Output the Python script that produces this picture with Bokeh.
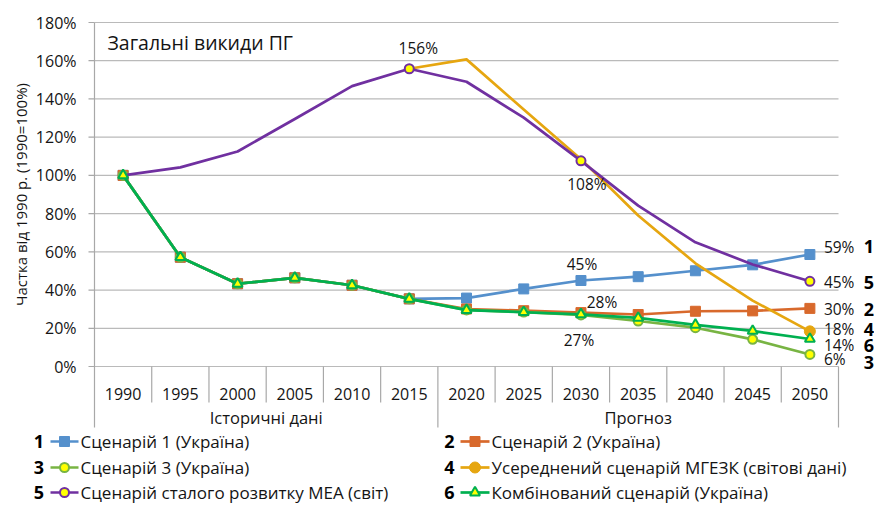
import math
from bokeh.plotting import figure
from bokeh.models import Range1d
from bokeh.embed import file_html
from bokeh.resources import INLINE
from bokeh.core.properties import value

# ---------------- data ----------------
years = ["1990", "1995", "2000", "2005", "2010", "2015", "2020",
         "2025", "2030", "2035", "2040", "2045", "2050"]
y_ticks = [0, 20, 40, 60, 80, 100, 120, 140, 160, 180]
groups = ["Історичні дані", "Прогноз"]
group_sizes = [6, 7]

nan = float("nan")
s1 = [100, 57.2, 43.3, 46.4, 42.5, 35.4, 35.8, 40.6, 45.0, 47.0, 50.1, 53.2, 58.6]
s2 = [100, 57.2, 43.3, 46.4, 42.5, 35.4, 30.1, 29.2, 28.2, 27.2, 28.9, 29.1, 30.4]
s3 = [100, 57.2, 43.3, 46.4, 42.5, 35.4, 29.6, 28.5, 27.0, 23.8, 20.3, 14.2, 6.3]
s4 = [nan, nan, nan, nan, nan, 155.8, 160.7, 134.5, 108.5, 79.0, 54.0, 34.5, 18.4]
s5 = [100, 104.2, 112.5, 129.5, 146.7, 155.8, 149.0, 130.2, 107.6, 84.2, 65.0, 53.4, 44.6]
s6 = [100, 57.2, 43.3, 46.4, 42.5, 35.4, 29.5, 28.4, 27.3, 25.4, 21.8, 18.6, 14.4]

series_ids = ["1", "2", "3", "4", "5", "6"]
series_names = ["Сценарій 1 (Україна)",
                "Сценарій 2 (Україна)",
                "Сценарій 3 (Україна)",
                "Усереднений сценарій МГЕЗК (світові дані)",
                "Сценарій сталого розвитку МЕА (світ)",
                "Комбінований сценарій (Україна)"]
series_values = [s1, s2, s3, s4, s5, s6]
marker_years = [years, years, years, ["2050"], ["2015", "2030", "2050"], years]

title_text = "Загальні викиди ПГ"
y_title = "Частка від 1990 р. (1990=100%)"

# ---------------- styles ----------------
FONT = value("Open Sans")
TXT = "#141414"
GRID = "#BABABA"
AXIS = "#A8A8A8"
YEL = "#FFFF00"
styles = [
    dict(color="#5590CC", marker="square", size=10, fill="#5590CC", lw=1),
    dict(color="#D8692C", marker="square", size=10, fill="#D8692C", lw=1),
    dict(color="#78B443", marker="circle", size=9, fill=YEL, lw=2),
    dict(color="#E6A610", marker="circle", size=11, fill="#E6A610", lw=1),
    dict(color="#7030A0", marker="circle", size=9, fill=YEL, lw=2),
    dict(color="#00B050", marker="triangle", size=10, fill=YEL, lw=2),
]
LINE_W = 2.7

# geometry (page pixels)
W, H = 874, 505
PLOT_L, PLOT_R, PLOT_T, PLOT_B = 94, 838, 22, 366
n = len(years)
CW = (PLOT_R - PLOT_L) / n          # category width (px)
PPU = (PLOT_B - PLOT_T) / 180.0     # px per percent


def xi(px):
    return -0.5 + (px - PLOT_L) / CW


def yv(py):
    return (PLOT_B - py) / PPU


idx = list(range(n))

p = figure(width=W, height=H, x_range=Range1d(xi(0), xi(W)), y_range=Range1d(yv(H), yv(0)),
           output_backend="svg", toolbar_location=None,
           x_axis_location=None, y_axis_location=None, min_border=0)
p.outline_line_color = None
p.grid.grid_line_color = None
p.background_fill_color = "white"
p.border_fill_color = "white"

# --- value axis: grid, axis line, ticks, labels, title ---
x_first, x_last = -0.5, n - 0.5
p.segment(x0=[x_first] * len(y_ticks), y0=y_ticks, x1=[x_last] * len(y_ticks), y1=y_ticks,
          line_color=GRID, line_width=1.2)
p.segment(x0=[x_first], y0=[max(y_ticks)], x1=[x_first], y1=[yv(427)], line_color=AXIS, line_width=1.2)
p.segment(x0=[xi(88)] * len(y_ticks), y0=y_ticks, x1=[x_first] * len(y_ticks), y1=y_ticks,
          line_color=AXIS, line_width=1.2)
p.text(x=[xi(76)] * len(y_ticks), y=y_ticks, text=[f"{t}%" for t in y_ticks],
       text_align="right", text_baseline="middle", text_font=FONT, text_font_size="16px",
       text_color=TXT)
p.text(x=[xi(20)], y=[(min(y_ticks) + max(y_ticks)) / 2], text=[y_title], angle=math.pi / 2,
       text_align="center", text_baseline="middle", text_font=FONT, text_font_size="15px",
       text_color=TXT)

# --- category axis ---
bounds = [i - 0.5 for i in range(n + 1)]
group_edges = [-0.5]
for g in group_sizes:
    group_edges.append(group_edges[-1] + g)
sep_y1 = [yv(427) if b in group_edges else yv(402) for b in bounds]
p.segment(x0=bounds[1:], y0=[0] * n, x1=bounds[1:], y1=sep_y1[1:], line_color=AXIS, line_width=1.2)
p.text(x=idx, y=[yv(393)] * n, text=years, text_align="center", text_baseline="middle",
       text_font=FONT, text_font_size="16px", text_color=TXT)
gx = [(group_edges[j] + group_edges[j + 1]) / 2 for j in range(len(groups))]
p.text(x=gx, y=[yv(417)] * len(groups), text=groups, text_align="center", text_baseline="middle",
       text_font=FONT, text_font_size="16.5px", text_color=TXT)

# --- chart title ---
p.text(x=[xi(107)], y=[yv(42)], text=[title_text], text_align="left", text_baseline="middle",
       text_font=FONT, text_font_size="19.5px", text_color=TXT)

# --- series ---
for k, vals in enumerate(series_values):
    st = styles[k]
    p.line(x=idx, y=vals, line_color=st["color"], line_width=LINE_W, line_join="round")
    mx = [years.index(y) for y in marker_years[k]]
    my = [vals[i] for i in mx]
    p.scatter(x=mx, y=my, marker=st["marker"], size=st["size"], fill_color=st["fill"],
              line_color=st["color"], line_width=st["lw"])

# --- data labels (offsets in px: dx right, dy up) ---
point_labels = [(4, "2015", 9, 21), (4, "2030", 6, -23), (0, "2030", 1, 17),
                (1, "2030", 21, 11), (2, "2030", -2, -25)]
lx, ly, lt = [], [], []
for k, yr, dx, dy in point_labels:
    i = years.index(yr)
    v = series_values[k][i]
    lx.append(i + dx / CW); ly.append(v + dy / PPU); lt.append(f"{int(v + 0.5)}%")
p.text(x=lx, y=ly, text=lt, text_align="center", text_baseline="middle",
       text_font=FONT, text_font_size="15.5px", text_color=TXT)

end_pct_dy = [8, -1, -5, 2, -1, -6]
end_num_dy = [8.5, -1, -8, 2, -1, -7]
ex = [n - 1 + 14 / CW] * 6
ey = [series_values[k][-1] + end_pct_dy[k] / PPU for k in range(6)]
p.text(x=ex, y=ey, text=[f"{int(series_values[k][-1] + 0.5)}%" for k in range(6)],
       text_align="left", text_baseline="middle", text_font=FONT, text_font_size="15.5px",
       text_color=TXT)
nx = [n - 1 + 59 / CW] * 6
ny = [series_values[k][-1] + end_num_dy[k] / PPU for k in range(6)]
p.text(x=nx, y=ny, text=series_ids, text_align="center", text_baseline="middle",
       text_font=FONT, text_font_size="18px", text_font_style="bold", text_color="black")

# --- legend ---
leg_cols = [(38.5, 50, 78, 80), (449, 460, 489, 491)]
leg_rows = [441, 467, 492]
for k in range(6):
    c, r = k % 2, k // 2
    nxp, l0, l1, tx = leg_cols[c]
    yy = yv(leg_rows[r])
    st = styles[k]
    p.segment(x0=[xi(l0)], y0=[yy], x1=[xi(l1)], y1=[yy], line_color=st["color"], line_width=LINE_W)
    p.scatter(x=[xi((l0 + l1) / 2)], y=[yy], marker=st["marker"], size=st["size"],
              fill_color=st["fill"], line_color=st["color"], line_width=st["lw"])
    p.text(x=[xi(nxp)], y=[yy], text=[series_ids[k]], text_align="center", text_baseline="middle",
           text_font=FONT, text_font_size="18px", text_font_style="bold", text_color="black")
    p.text(x=[xi(tx)], y=[yy], text=[series_names[k]], text_align="left", text_baseline="middle",
           text_font=FONT, text_font_size="17px", text_color=TXT)

open("out.html", "w").write(file_html(p, INLINE))
